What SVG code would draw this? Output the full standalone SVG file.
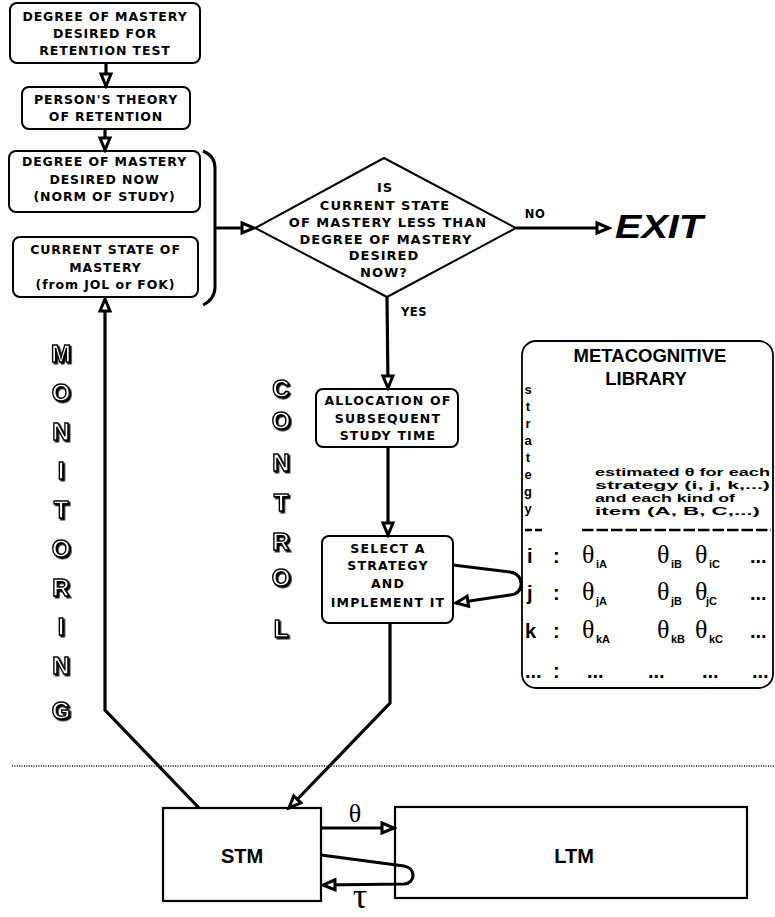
<svg xmlns="http://www.w3.org/2000/svg" width="775" height="917" viewBox="0 0 775 917">
<style>
.box{fill:#fff;stroke:#000;stroke-width:2}
.t{font-family:"DejaVu Sans","Liberation Sans",sans-serif;font-weight:bold;font-size:12.5px;letter-spacing:0.9px;text-anchor:middle;fill:#000}
.d{font-size:13px;letter-spacing:1px}
.c{fill:none;stroke:#000;stroke-width:3.2;stroke-linejoin:miter}
.big{font-family:"Liberation Sans",Arial,sans-serif;font-weight:bold;font-size:24px;fill:#fff;stroke:#000;stroke-width:1.4;text-anchor:middle}
.lib{font-family:"Liberation Sans",Arial,sans-serif;font-weight:bold;font-size:11px;fill:#000}
.th{font-family:"Liberation Serif","Times New Roman",serif;font-size:26px;fill:#000}
.sub{font-family:"Liberation Sans",Arial,sans-serif;font-weight:bold;font-size:11px;fill:#000}
.row{font-family:"Liberation Sans",Arial,sans-serif;font-weight:bold;font-size:20px;fill:#000}
.mem{font-family:"Liberation Sans",Arial,sans-serif;font-weight:bold;font-size:20px;text-anchor:middle;fill:#000}
</style>
<defs>
<marker id="ah" markerUnits="userSpaceOnUse" markerWidth="18" markerHeight="16" refX="12" refY="5" orient="auto" viewBox="-3 -3 18 16">
<path d="M0,0 L12,5 L0,10 Z" fill="#fff" stroke="#000" stroke-width="3" stroke-linejoin="miter"/>
</marker>
<filter id="sh" x="-20%" y="-20%" width="150%" height="150%">
<feDropShadow dx="1.6" dy="1.6" stdDeviation="0" flood-color="#000"/>
</filter>
</defs>
<rect width="775" height="917" fill="#fff"/>

<g id="n1">
<rect class="box" x="10" y="3" width="190" height="60" rx="7"/>
<text class="t" x="105" y="21">DEGREE OF MASTERY</text>
<text class="t" x="105" y="38">DESIRED FOR</text>
<text class="t" x="105" y="55">RETENTION TEST</text>
</g>
<g id="n2">
<rect class="box" x="22" y="87" width="168" height="42" rx="7"/>
<text class="t" x="106" y="104">PERSON'S THEORY</text>
<text class="t" x="106" y="121">OF RETENTION</text>
</g>
<g id="n3">
<rect class="box" x="9" y="151" width="191" height="61" rx="7"/>
<text class="t" x="104.5" y="166">DEGREE OF MASTERY</text>
<text class="t" x="104.5" y="184">DESIRED NOW</text>
<text class="t" x="104.5" y="201">(NORM OF STUDY)</text>
</g>
<g id="n4">
<rect class="box" x="13" y="237" width="185" height="60" rx="7"/>
<text class="t" x="105.5" y="254">CURRENT STATE OF</text>
<text class="t" x="105.5" y="272">MASTERY</text>
<text class="t" x="105.5" y="289">(from JOL or FOK)</text>
</g>

<g id="decision">
<path class="box" d="M384,158 L516,228 L387,297 L255,228 Z"/>
<text class="t d" x="385" y="192">IS</text>
<text class="t d" x="385" y="210">CURRENT STATE</text>
<text class="t d" x="388" y="227">OF MASTERY LESS THAN</text>
<text class="t d" x="386" y="244">DEGREE OF MASTERY</text>
<text class="t d" x="384" y="260">DESIRED</text>
<text class="t d" x="384" y="277">NOW?</text>
</g>
<g id="labels">
<text class="t" x="535" y="218" style="font-size:11.5px;letter-spacing:0.5px">NO</text>
<text class="t" x="414" y="316" style="font-size:11.5px;letter-spacing:0.5px">YES</text>
</g>
<g id="exit">
<text x="615" y="238" font-family="Liberation Sans, Arial, sans-serif" font-weight="bold" font-style="italic" font-size="33" textLength="88" lengthAdjust="spacingAndGlyphs">EXIT</text>
</g>

<g id="allocation">
<rect class="box" x="316" y="389" width="142" height="58" rx="7"/>
<text class="t" x="388" y="404.5" style="letter-spacing:1.2px">ALLOCATION OF</text>
<text class="t" x="388" y="422.5" style="letter-spacing:1.2px">SUBSEQUENT</text>
<text class="t" x="388" y="439.5" style="letter-spacing:1.2px">STUDY TIME</text>
</g>
<g id="select">
<rect class="box" x="322" y="536" width="131" height="87" rx="7"/>
<text class="t" x="388" y="552.5" style="letter-spacing:1.2px">SELECT A</text>
<text class="t" x="388" y="569.5" style="letter-spacing:1.2px">STRATEGY</text>
<text class="t" x="388" y="587.5" style="letter-spacing:1.2px">AND</text>
<text class="t" x="388" y="606.5" style="letter-spacing:1.2px">IMPLEMENT IT</text>
</g>

<g id="monitoring">
<text class="big" filter="url(#sh)"><tspan x="61" y="362">M</tspan><tspan x="61" y="401">O</tspan><tspan x="61" y="440">N</tspan><tspan x="61" y="479">I</tspan><tspan x="61" y="518">T</tspan><tspan x="61" y="557">O</tspan><tspan x="61" y="596">R</tspan><tspan x="61" y="635">I</tspan><tspan x="61" y="674">N</tspan><tspan x="61" y="719">G</tspan></text>
</g>
<g id="control">
<text class="big" filter="url(#sh)"><tspan x="281" y="397">C</tspan><tspan x="281" y="429">O</tspan><tspan x="281" y="471">N</tspan><tspan x="281" y="511">T</tspan><tspan x="281" y="550">R</tspan><tspan x="281" y="586">O</tspan><tspan x="281" y="637">L</tspan></text>
</g>

<g id="library">
<rect class="box" x="522" y="341" width="251" height="347" rx="14" style="stroke-width:1.8"/>
<text x="650" y="362" font-family="Liberation Sans, Arial, sans-serif" font-weight="bold" font-size="18.5" text-anchor="middle">METACOGNITIVE</text>
<text x="646" y="385" font-family="Liberation Sans, Arial, sans-serif" font-weight="bold" font-size="18.5" text-anchor="middle">LIBRARY</text>
<text class="lib" text-anchor="middle" style="font-size:13px"><tspan x="528" y="394">s</tspan><tspan x="528" y="411">t</tspan><tspan x="528" y="428">r</tspan><tspan x="528" y="445">a</tspan><tspan x="528" y="462">t</tspan><tspan x="528" y="479">e</tspan><tspan x="528" y="496">g</tspan><tspan x="528" y="513">y</tspan></text>
<text class="lib" x="595" y="476" textLength="175" lengthAdjust="spacingAndGlyphs">estimated θ for each</text>
<text class="lib" x="595" y="489" textLength="175" lengthAdjust="spacingAndGlyphs">strategy (i, j, k,...)</text>
<text class="lib" x="595" y="502" textLength="140" lengthAdjust="spacingAndGlyphs">and each kind of</text>
<text class="lib" x="595" y="515" textLength="165" lengthAdjust="spacingAndGlyphs">item (A, B, C,...)</text>
<path d="M525,530 H543" stroke="#000" stroke-width="2.5" stroke-dasharray="7 3"/>
<path d="M582,530 H771" stroke="#000" stroke-width="2.5" stroke-dasharray="11.5 3"/>
<text class="row" x="527" y="563">i</text><text class="row" x="553" y="563">:</text>
<text class="row" x="527" y="600">j</text><text class="row" x="553" y="600">:</text>
<text class="row" x="525" y="638">k</text><text class="row" x="553" y="638">:</text>
<text class="row" x="525" y="678">...</text><text class="row" x="553" y="678">:</text>
<text class="th" x="582" y="563">θ</text><text class="sub" x="596" y="568">iA</text>
<text class="th" x="657" y="563">θ</text><text class="sub" x="671" y="568">iB</text>
<text class="th" x="695" y="563">θ</text><text class="sub" x="709" y="568">iC</text>
<text class="row" x="750" y="563">...</text>
<text class="th" x="582" y="600">θ</text><text class="sub" x="596" y="605">jA</text>
<text class="th" x="657" y="600">θ</text><text class="sub" x="671" y="605">jB</text>
<text class="th" x="695" y="600">θ</text><text class="sub" x="706" y="605">jC</text>
<text class="row" x="750" y="600">...</text>
<text class="th" x="582" y="638">θ</text><text class="sub" x="596" y="643">kA</text>
<text class="th" x="657" y="638">θ</text><text class="sub" x="671" y="643">kB</text>
<text class="th" x="695" y="638">θ</text><text class="sub" x="709" y="643">kC</text>
<text class="row" x="750" y="638">...</text>
<text class="row" x="587" y="678">...</text>
<text class="row" x="648" y="678">...</text>
<text class="row" x="702" y="678">...</text>
<text class="row" x="752" y="678">...</text>
</g>

<g id="stm">
<rect x="163" y="808" width="158" height="93" fill="#fff" stroke="#000" stroke-width="2.2"/>
<text class="mem" x="242" y="863">STM</text>
</g>
<g id="ltm">
<rect x="395" y="807" width="352" height="91" fill="#fff" stroke="#000" stroke-width="2.2"/>
<text class="mem" x="574" y="863">LTM</text>
</g>
<g id="memlabels">
<text x="355" y="822" font-family="Liberation Serif, Times New Roman, serif" font-size="26" text-anchor="middle">θ</text>
<text x="360" y="908" font-family="Liberation Serif, Times New Roman, serif" font-size="36" text-anchor="middle">τ</text>
</g>

<g id="connectors">
<path class="c" d="M106,63 L106,86" marker-end="url(#ah)"/>
<path class="c" d="M105,129 L105,150" marker-end="url(#ah)"/>
<path class="c" d="M203,151 Q215,156 215,168 L215,287 Q215,299 203,305" style="stroke-width:3"/>
<path class="c" d="M215,228 L254,228" marker-end="url(#ah)"/>
<path class="c" d="M516,228 L609,228" marker-end="url(#ah)"/>
<path class="c" d="M387,297 L388,388" marker-end="url(#ah)"/>
<path class="c" d="M388,447 L388,535" marker-end="url(#ah)"/>
<path class="c" d="M453,565 L510,572 C525,574 525,594 510,595 L456,603" marker-end="url(#ah)"/>
<path class="c" d="M390,623 L390,703 L289,808" marker-end="url(#ah)"/>
<path class="c" d="M199,808 L105,710 L105,299" marker-end="url(#ah)"/>
<path class="c" d="M321,828 L394,828" marker-end="url(#ah)"/>
<path class="c" d="M321,855 L404,866 C416,868 416,883 404,884 L323,885" marker-end="url(#ah)"/>
<line x1="12" y1="766" x2="775" y2="766" stroke="#444" stroke-width="2" stroke-dasharray="1 1.4"/>
</g>
</svg>
